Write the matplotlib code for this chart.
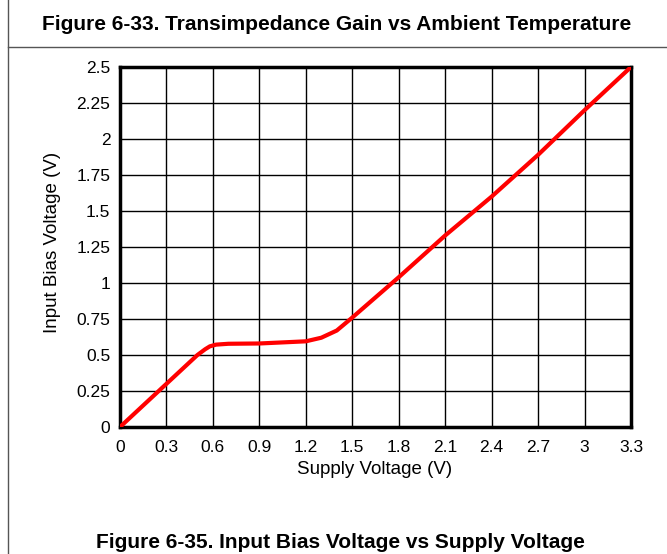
import matplotlib.pyplot as plt
from matplotlib.lines import Line2D

plt.rcParams['font.family'] = ['Liberation Sans', 'DejaVu Sans']

# input bias voltage read across the supply range
supply_v = [0, 0.3, 0.5, 0.55, 0.58, 0.62, 0.7, 0.9, 1.2, 1.3, 1.4, 1.5, 1.8, 2.1, 2.4, 2.7, 3.0, 3.3]
bias_v = [0, 0.30, 0.50, 0.54, 0.56, 0.572, 0.578, 0.58, 0.595, 0.62, 0.67, 0.76, 1.04, 1.33, 1.60, 1.89, 2.20, 2.50]

x_ticks = [0, 0.3, 0.6, 0.9, 1.2, 1.5, 1.8, 2.1, 2.4, 2.7, 3, 3.3]
x_labels = ['0', '0.3', '0.6', '0.9', '1.2', '1.5', '1.8', '2.1', '2.4', '2.7', '3', '3.3']
y_ticks = [0, 0.25, 0.5, 0.75, 1, 1.25, 1.5, 1.75, 2, 2.25, 2.5]
y_labels = ['0', '0.25', '0.5', '0.75', '1', '1.25', '1.5', '1.75', '2', '2.25', '2.5']

fig = plt.figure(figsize=(6.67, 5.54), dpi=100)
ax = fig.add_axes([120/667, 1 - 427/554, 511/667, 360/554])

ax.plot(supply_v, bias_v, color='#ff0000', lw=3, solid_capstyle='round',
        solid_joinstyle='round', zorder=3)

ax.set_xlim(0, 3.3)
ax.set_ylim(0, 2.5)
ax.set_xticks(x_ticks)
ax.set_xticklabels(x_labels)
ax.set_yticks(y_ticks)
ax.set_yticklabels(y_labels)
ax.tick_params(length=0, labelsize=12.5)
ax.tick_params(axis='x', pad=9)
ax.tick_params(axis='y', pad=7)
ax.grid(True, color='black', lw=1)
for s in ax.spines.values():
    s.set_linewidth(2.5)
ax.set_xlabel('Supply Voltage (V)', fontsize=13.5)
ax.set_ylabel('Input Bias Voltage (V)', fontsize=13.5)
ax.xaxis.set_label_coords(0.499, -0.095)
ax.yaxis.set_label_coords(-0.133, 0.512)
ax.yaxis.label.set_va('center')

# page frame and headings
fig.add_artist(Line2D([8/667, 8/667], [0, 1], color='#555555', lw=1))
fig.add_artist(Line2D([8/667, 1], [1 - 47/554, 1 - 47/554], color='#555555', lw=1))
fig.text(337/667, 1 - 24/554, 'Figure 6-33. Transimpedance Gain vs Ambient Temperature',
         ha='center', va='center', fontsize=15, fontweight='bold')
fig.text(340/667, 1 - 542/554, 'Figure 6-35. Input Bias Voltage vs Supply Voltage',
         ha='center', va='center', fontsize=15, fontweight='bold')

fig.savefig('out.png', dpi=100)
